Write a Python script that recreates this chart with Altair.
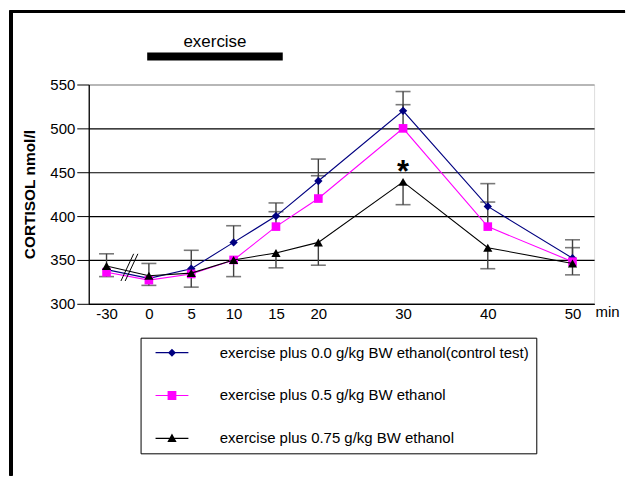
import altair as alt
import pandas as pd

# ---------------- data ----------------
times = [-30, 0, 5, 10, 15, 20, 30, 40, 50]
series = [
    "exercise plus 0.0 g/kg BW ethanol(control test)",
    "exercise plus 0.5 g/kg BW ethanol",
    "exercise plus 0.75 g/kg BW ethanol",
]
control = [339, 329, 340, 370, 400, 440, 520, 411, 352]
ethanol_05 = [336, 327, 334, 350, 388, 420, 500, 388, 348]
ethanol_075 = [343, 332, 335, 350, 358, 370, 439, 364, 346]
# visible one-sided error bars (SD)
err_control_plus = [18, 17, 21, 19, 15, 25, 22, 26, 21]
err_05_plus = [None, None, None, None, 17, 26, 27, 28, 16]
err_075_minus = [12, 11, 16, 19, 17, 26, 26, 24, 13]

colors = ["#000080", "#FF00FF", "#000000"]
shapes = ["diamond", "square", "triangle-up"]
sizes = [70, 75, 85]

exercise_period = [-0.2, 15.8]
signif_time = 30
y_ticks = [300, 350, 400, 450, 500, 550]

# the -30 min sample is drawn at -5 on a broken axis
BREAK_POS = -5
pos = [BREAK_POS if t < 0 else t for t in times]

values = [control, ethanol_05, ethanol_075]
rows = []
for s, vals in zip(series, values):
    for t, p, v in zip(times, pos, vals):
        rows.append({"series": s, "t": t, "pos": p, "value": v})
df = pd.DataFrame(rows)

err_rows = []
for s, vals, errs, sign in [
    (series[0], control, err_control_plus, 1),
    (series[1], ethanol_05, err_05_plus, 1),
    (series[2], ethanol_075, err_075_minus, -1),
]:
    for p, v, e in zip(pos, vals, errs):
        if e is not None:
            err_rows.append({"series": s, "pos": p, "value": v, "end": v + sign * e})
err_df = pd.DataFrame(err_rows)

break_df = pd.DataFrame({
    "x": [-3.3, -2.8], "x2": [-1.8, -1.3], "y": [326, 326], "y2": [357, 357]
})
ex_df = pd.DataFrame({"start": [exercise_period[0]], "end": [exercise_period[1]],
                      "mid": [(exercise_period[0] + exercise_period[1]) / 2],
                      "label": ["exercise"]})
sig_df = pd.DataFrame({"pos": [signif_time],
                       "value": [ethanol_075[times.index(signif_time)]],
                       "label": ["*"]})

# ---------------- scales / axes ----------------
xscale = alt.Scale(domain=[-7.1, 52.55], nice=False, zero=False)
yscale = alt.Scale(domain=[300, 550], nice=False, zero=False)

label_map = " : ".join(
    f"datum.value == {p} ? '{t}'" for t, p in zip(times, pos) if p != t
)
x_axis = alt.Axis(
    values=pos, labelExpr=f"{label_map} : datum.label", ticks=False, grid=False,
    domainColor="black", domainWidth=1.3, labelFontSize=15, labelPadding=3,
    labelColor="black", title="min", titleFontWeight="normal", titleFontSize=15,
    titleAlign="left", titleBaseline="alphabetic", titleX=508, titleY=13,
    titleColor="black", labelFlush=False,
)
y_axis = alt.Axis(
    values=y_ticks, grid=True,
    gridColor={"condition": {"test": "datum.value == 550", "value": "#808080"},
               "value": "#000000"},
    gridWidth=1.2, tickSize=12, tickColor="black", domainColor="black",
    domainWidth=1.3, labelFontSize=15, labelPadding=2, labelColor="black",
    title="CORTISOL nmol/l", titleFontSize=15.5, titleFontWeight="bold",
    titleAngle=270, titleAlign="center", titleBaseline="middle",
    titleX=-59, titleY=110, titleColor="black",
)

X = lambda f="pos": alt.X(f"{f}:Q", scale=xscale, axis=x_axis)
Y = lambda f="value": alt.Y(f"{f}:Q", scale=yscale, axis=y_axis)

base = alt.Chart(df)

# frame around the figure
frame_v = base.mark_rule(color="black", strokeWidth=2.5).encode(
    x=alt.value(-78), y=alt.value(-74), y2=alt.value(392))
frame_h = base.mark_rule(color="black", strokeWidth=2.5).encode(
    x=alt.value(-79), x2=alt.value(538), y=alt.value(-73))

ex_bar = alt.Chart(ex_df).mark_rect(color="black").encode(
    x=alt.X("start:Q", scale=xscale, axis=x_axis), x2="end:Q",
    y=alt.value(-32), y2=alt.value(-24))
ex_text = alt.Chart(ex_df).mark_text(fontSize=17, baseline="alphabetic",
                                     align="center", color="black").encode(
    x=alt.X("mid:Q", scale=xscale, axis=x_axis), y=alt.value(-38), text="label:N")

err_rule = alt.Chart(err_df).mark_rule(color="#404040", strokeWidth=1.4).encode(
    x=X(), y=Y(), y2="end:Q")
err_cap = alt.Chart(err_df).mark_tick(color="#404040", thickness=1.6, size=15,
                                      orient="horizontal").encode(
    x=X(), y=Y("end"))

layers = [frame_v, frame_h, ex_bar, ex_text, err_rule, err_cap]
for s, c, sh, sz in zip(series, colors, shapes, sizes):
    sub = base.transform_filter(alt.datum.series == s)
    layers.append(sub.mark_line(color=c, strokeWidth=1.1).encode(x=X(), y=Y()))
    layers.append(sub.mark_point(color=c, filled=True, shape=sh, size=sz,
                                 opacity=1).encode(x=X(), y=Y()))

brk = alt.Chart(break_df).mark_rule(color="black", strokeWidth=1).encode(
    x=alt.X("x:Q", scale=xscale, axis=x_axis), x2="x2:Q",
    y=alt.Y("y:Q", scale=yscale, axis=y_axis), y2="y2:Q")
sig = alt.Chart(sig_df).mark_text(fontSize=31, fontWeight="bold",
                                  baseline="alphabetic", color="black").encode(
    x=X(), y=Y(), text="label:N")
layers += [brk, sig]

# legend (symbols: line + marker as custom paths)
line_part = "M-2.06,-0.07H2.06V0.07H-2.06Z"
legend_paths = [
    line_part + " M0,-0.5L0.5,0L0,0.5L-0.5,0Z",
    line_part + " M-0.55,-0.55H0.55V0.55H-0.55Z",
    line_part + " M0,-0.6L0.58,0.45H-0.58Z",
]
leg = dict(orient="none", legendX=52, legendY=254, padding=7,
           symbolOffset=16.5, labelOffset=40, rowPadding=27, symbolSize=256,
           labelFontSize=15, labelLimit=600, strokeColor="black",
           fillColor="white", symbolStrokeWidth=0, title=None,
           labelColor="black", symbolOpacity=1)
legend_layer = base.transform_filter("datum.pos > 1000").mark_point(
    filled=True).encode(
    x=X(), y=Y(),
    color=alt.Color("series:N", scale=alt.Scale(domain=series, range=colors),
                    legend=alt.Legend(**leg)),
    shape=alt.Shape("series:N", scale=alt.Scale(domain=series, range=legend_paths),
                    legend=alt.Legend(**leg)),
)
layers.append(legend_layer)

chart = alt.layer(*layers).properties(
    width=507, height=220, padding=0, background="white"
).configure_view(stroke="#808080", strokeWidth=1.5).configure(
    font="Liberation Sans"
)

chart.save("out.html", embed_options={"renderer": "svg", "actions": False})
